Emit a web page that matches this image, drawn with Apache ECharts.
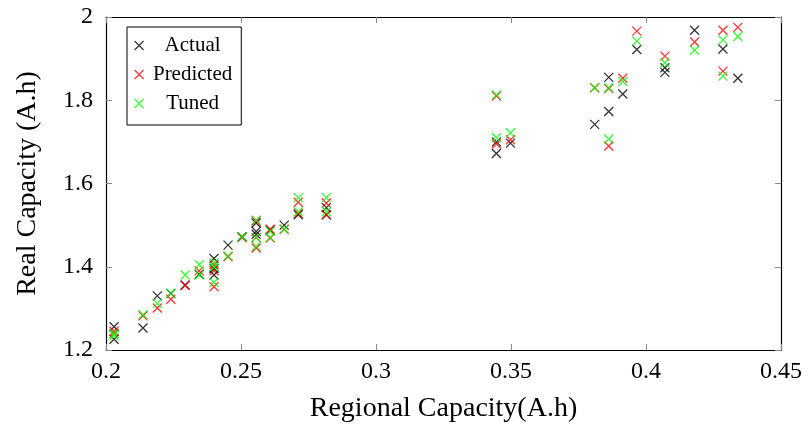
<!DOCTYPE html>
<html>
<head>
<meta charset="utf-8">
<script src="https://cdn.jsdelivr.net/npm/echarts@6/dist/echarts.min.js"></script>
<style>
html,body{margin:0;padding:0;background:#fff;}
#chart{width:808px;height:432px;}
</style>
</head>
<body>
<div id="chart"></div>
<script>
// Regional capacity (x) and real capacity (y) values
const actualX = [0.203, 0.203, 0.2137, 0.219, 0.224, 0.2293, 0.2345, 0.240, 0.240, 0.240, 0.2452, 0.2504, 0.2556, 0.2556, 0.2556, 0.2608, 0.266, 0.2712, 0.2816, 0.2816,
  0.3446, 0.3446, 0.3498, 0.381, 0.3862, 0.3862, 0.3914, 0.3966, 0.407, 0.407, 0.418, 0.4285, 0.434];
const actualY = [1.256, 1.226, 1.253, 1.330, 1.336, 1.356, 1.382, 1.420, 1.395, 1.380, 1.452, 1.472, 1.505, 1.485, 1.478, 1.488, 1.500, 1.525, 1.542, 1.525,
  1.700, 1.672, 1.697, 1.742, 1.855, 1.773, 1.815, 1.922, 1.878, 1.867, 1.968, 1.923, 1.853];

const predictedX = [0.203, 0.203, 0.2137, 0.219, 0.224, 0.2293, 0.2345, 0.240, 0.240, 0.240, 0.2452, 0.2504, 0.2556, 0.2556, 0.2556, 0.2608, 0.2608, 0.266, 0.2712, 0.2712, 0.2816, 0.2816,
  0.3446, 0.3446, 0.3498, 0.381, 0.3862, 0.3862, 0.3914, 0.3966, 0.407, 0.418, 0.4285, 0.4285, 0.434];
const predictedY = [1.245, 1.240, 1.282, 1.301, 1.322, 1.355, 1.390, 1.405, 1.390, 1.352, 1.424, 1.470, 1.510, 1.470, 1.445, 1.490, 1.469, 1.490, 1.555, 1.528, 1.553, 1.525,
  1.810, 1.695, 1.705, 1.830, 1.828, 1.690, 1.853, 1.966, 1.906, 1.940, 1.968, 1.870, 1.975];

const tunedX = [0.203, 0.203, 0.2137, 0.219, 0.224, 0.2293, 0.2345, 0.2345, 0.240, 0.240, 0.240, 0.2452, 0.2504, 0.2556, 0.2556, 0.2556, 0.2608, 0.2608, 0.266, 0.2712, 0.2712, 0.2816, 0.2816,
  0.3446, 0.3446, 0.3498, 0.381, 0.3862, 0.3862, 0.3914, 0.3966, 0.407, 0.418, 0.4285, 0.4285, 0.434];
const tunedY = [1.240, 1.235, 1.285, 1.312, 1.336, 1.380, 1.405, 1.380, 1.410, 1.400, 1.362, 1.426, 1.472, 1.512, 1.470, 1.449, 1.485, 1.470, 1.490, 1.566, 1.532, 1.566, 1.532,
  1.813, 1.710, 1.722, 1.830, 1.830, 1.707, 1.845, 1.942, 1.890, 1.920, 1.945, 1.858, 1.953];

const seriesNames = ['Actual', 'Predicted', 'Tuned'];
const seriesColors = ['#000000', '#ff0000', '#00ff00'];
const xTicks = {min: 0.2, max: 0.45, interval: 0.05};
const yTicks = {min: 1.2, max: 2.0, interval: 0.2};

const cross = 'path://M0,0L10,10M10,0L0,10';
const font = 'Liberation Serif';

function pairs(xs, ys){ return xs.map((x,i)=>[x, ys[i]]); }
const dataSets = [pairs(actualX, actualY), pairs(predictedX, predictedY), pairs(tunedX, tunedY)];

const chart = echarts.init(document.getElementById('chart'), null, {renderer:'canvas'});
const tickStyle = {show:true, inside:true, length:6, lineStyle:{color:'#888', width:1}};
const option = {
  backgroundColor:'#fff',
  animation:false,
  grid:{left:106, right:27, top:17, bottom:82, containLabel:false},
  legend:{
    left:127, top:27, orient:'vertical',
    padding:[8,9,11,7], itemGap:8,
    borderColor:'#000', borderWidth:1, backgroundColor:'#fff',
    itemWidth:9, itemHeight:9,
    data: seriesNames.map((n,i)=>({name:n, icon:cross, itemStyle:{color:'transparent', borderColor:seriesColors[i], borderWidth:1.2}})),
    formatter: n => '{t|' + n + '}',
    textStyle:{fontFamily:font, fontSize:21, color:'#000',
      rich:{t:{width:88, align:'center', fontFamily:font, fontSize:21, color:'#000'}}}
  },
  xAxis:[{
    type:'value', min:xTicks.min, max:xTicks.max, interval:xTicks.interval,
    name:'Regional Capacity(A.h)', nameLocation:'middle', nameGap:45,
    nameTextStyle:{fontFamily:font, fontSize:28, color:'#000'},
    axisLine:{show:true, onZero:false, lineStyle:{color:'#000', width:1.2}},
    axisTick:tickStyle,
    axisLabel:{fontFamily:font, fontSize:24, color:'#000', margin:10},
    splitLine:{show:false}
  },{
    type:'value', position:'top', min:xTicks.min, max:xTicks.max, interval:xTicks.interval,
    axisLine:{show:true, onZero:false, lineStyle:{color:'#000', width:1.2}},
    axisTick:tickStyle, axisLabel:{show:false}, splitLine:{show:false}
  }],
  yAxis:[{
    type:'value', min:yTicks.min, max:yTicks.max, interval:yTicks.interval,
    name:'Real Capacity (A.h)', nameLocation:'middle', nameGap:64,
    nameTextStyle:{fontFamily:font, fontSize:28, color:'#000'},
    axisLine:{show:true, onZero:false, lineStyle:{color:'#000', width:1.2}},
    axisTick:tickStyle,
    axisLabel:{fontFamily:font, fontSize:24, color:'#000', margin:13, formatter: v => String(+v.toFixed(2))},
    splitLine:{show:false}
  },{
    type:'value', position:'right', min:yTicks.min, max:yTicks.max, interval:yTicks.interval,
    axisLine:{show:true, onZero:false, lineStyle:{color:'#000', width:1.2}},
    axisTick:tickStyle, axisLabel:{show:false}, splitLine:{show:false}
  }],
  series: seriesNames.map((n,i)=>({
    name:n, type:'scatter', xAxisIndex:0, yAxisIndex:0,
    symbol:cross, symbolSize:9,
    itemStyle:{color:'transparent', borderColor:seriesColors[i], borderWidth:1.3},
    data:dataSets[i]
  }))
};
chart.setOption(option);
</script>
</body>
</html>
